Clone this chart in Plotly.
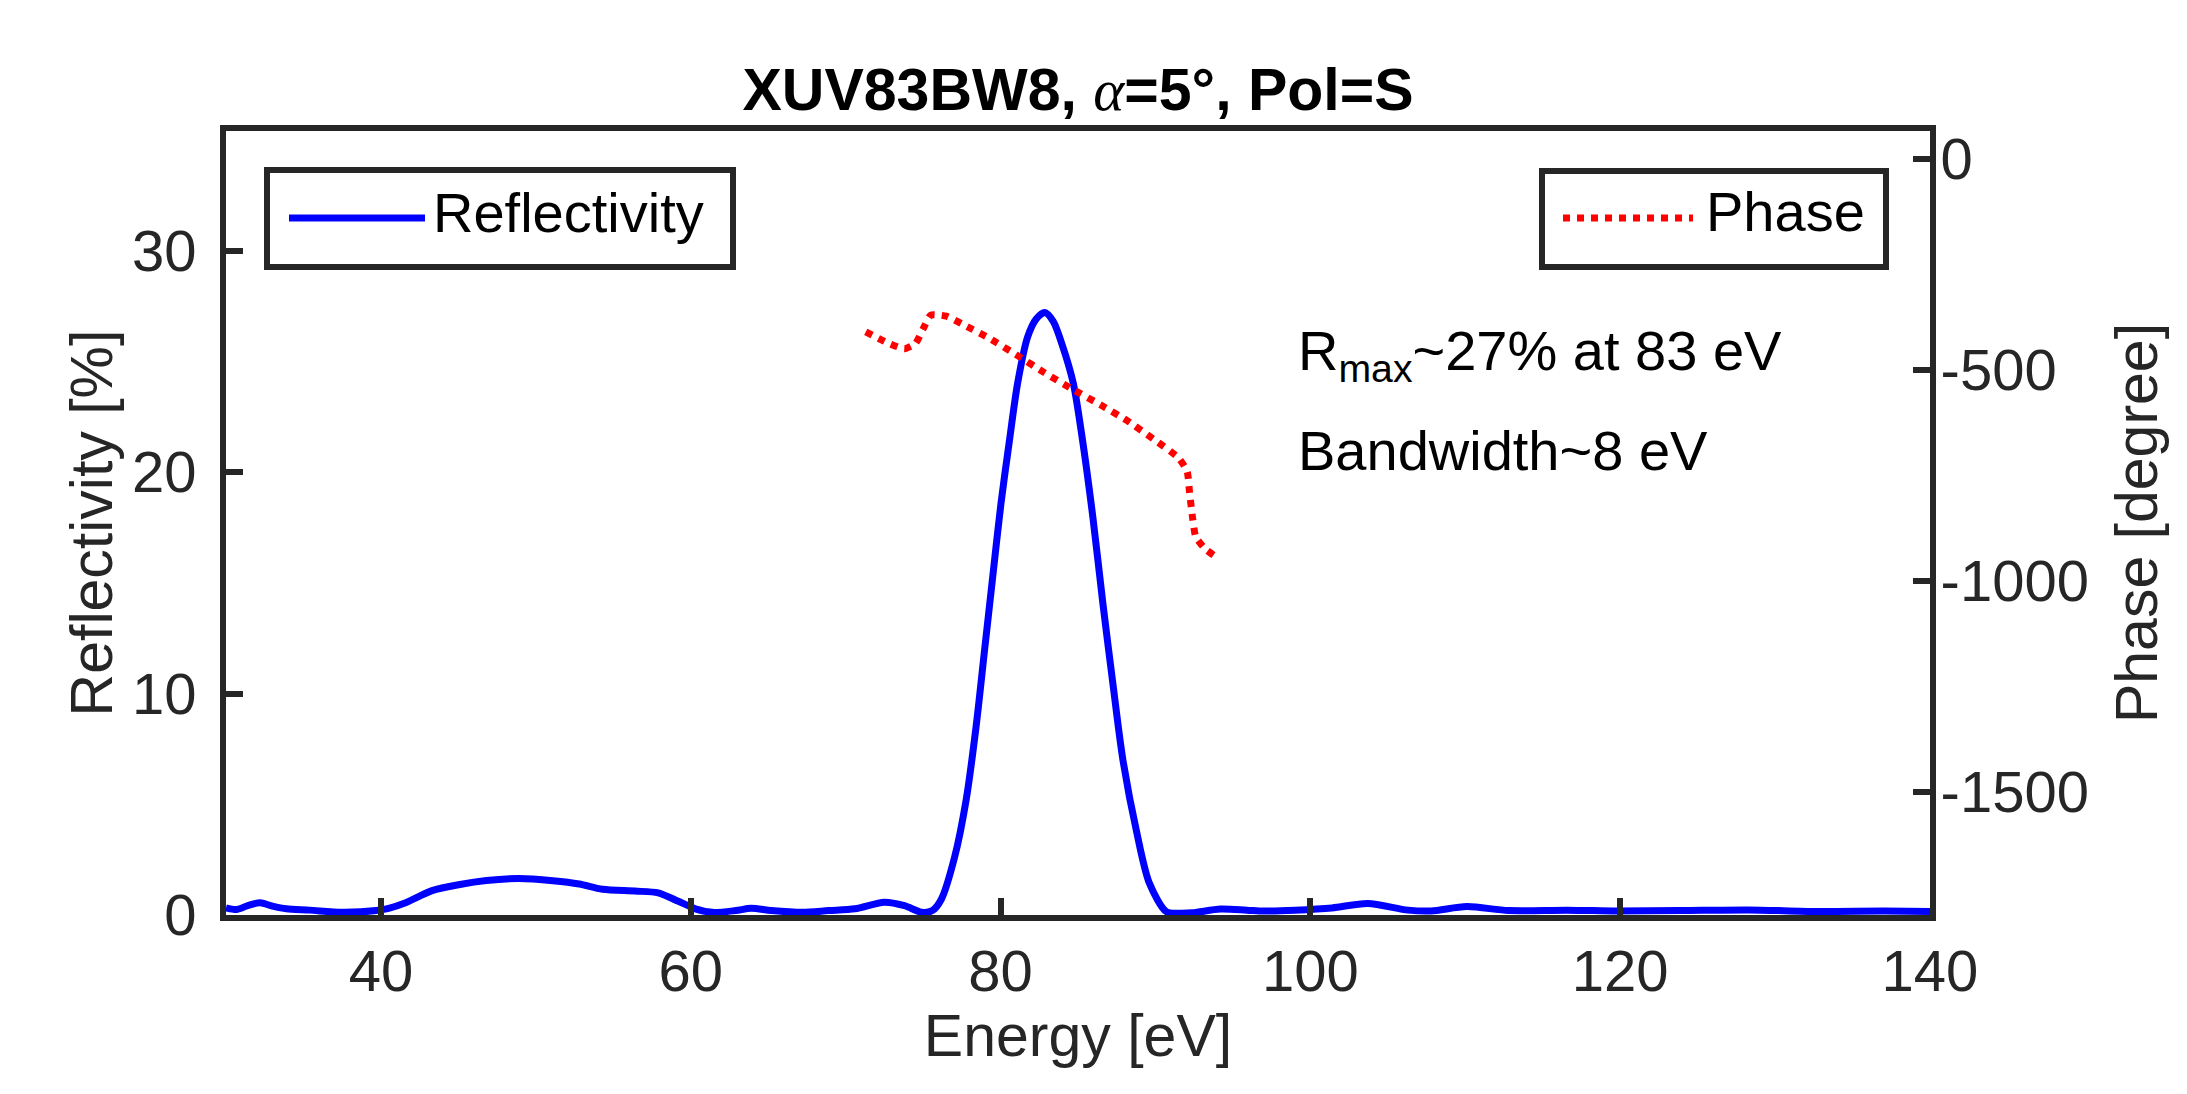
import plotly.graph_objects as go

# ---------------- data ----------------
energy_R = [30.0, 30.7, 31.5, 32.2, 33.0, 33.9, 35.4, 37.5, 39.7, 40.5, 41.6, 43.3,
            45.1, 46.8, 48.9, 51.1, 52.8, 54.3, 56.4, 57.9, 59.2, 60.3, 61.4, 62.9,
            63.9, 65.2, 67.2, 68.9, 70.6, 72.5, 73.8, 74.9, 75.6, 76.17, 77.03, 77.78,
            78.42, 78.96, 79.5, 80.03, 80.57, 81.1, 81.75, 82.29, 82.85, 83.4, 84.0, 84.7,
            85.3, 85.97, 86.6, 87.26, 87.9, 88.8, 89.6, 90.7, 91.5, 92.4, 94.2, 95.9,
            97.0, 99.0, 101.4, 103.7, 106.3, 107.8, 110.1, 112.8, 116.6, 119.8, 123.9, 128.3,
            132.7, 137.0, 140.0]
reflectivity = [0.32, 0.25, 0.45, 0.55, 0.40, 0.28, 0.22, 0.12, 0.20, 0.30, 0.55, 1.10,
                1.38, 1.56, 1.65, 1.55, 1.40, 1.16, 1.08, 1.00, 0.62, 0.28, 0.12, 0.20,
                0.30, 0.20, 0.12, 0.20, 0.28, 0.58, 0.42, 0.12, 0.20, 0.70, 2.6, 5.2,
                8.5, 11.9, 15.3, 18.6, 21.4, 24.0, 26.1, 26.9, 27.2, 26.8, 25.7, 24.0,
                21.4, 17.9, 14.1, 10.4, 7.0, 3.7, 1.45, 0.15, 0.08, 0.10, 0.27, 0.22,
                0.18, 0.22, 0.32, 0.52, 0.22, 0.18, 0.38, 0.20, 0.22, 0.18, 0.20, 0.23,
                0.16, 0.18, 0.16]

energy_P = [71.3, 72.7, 73.8, 74.5, 75.0, 75.5, 76.5, 77.5, 79.3, 81.0, 82.8, 84.65,
            86.5, 88.2, 89.9, 91.5, 92.05, 92.2, 92.4, 92.6, 93.2, 94.1]
phase = [-410, -436, -450, -438, -403, -370, -373, -391, -426, -464, -506, -546,
         -584, -621, -665, -709, -741, -790, -852, -896, -924, -948]

x_ticks = [40, 60, 80, 100, 120, 140]
y_left_ticks = [0, 10, 20, 30]
y_right_ticks = [0, -500, -1000, -1500]
y_right_ticktext = ['0', '-500', '-1000', '-1500']

x_range = [30, 140]
y_left_range = [0, 35.4]
y_right_range = [-1792, 66]

series_names = ['Reflectivity', 'Phase']
title_text = ('XUV83BW8, <span style="font-family:\'Liberation Serif\',serif;font-weight:normal">'
              '<i>α</i></span>=5°, Pol=S')
note1 = 'R<sub>max</sub>~27% at 83 eV'
note2 = 'Bandwidth~8 eV'

# ---------------- figure ----------------
FONT = "Liberation Sans, Arial, Helvetica, sans-serif"
AX = '#262626'
BLUE = '#0000FF'
RED = '#FF0000'
W, H = 2187, 1094
L, R, T, B = 218, 1922, 123, 907


def px(xp):  # page px -> paper x
    return (xp - L) / (R - L)


def py(yp):  # page px -> paper y
    return (B - yp) / (B - T)


fig = go.Figure()
fig.add_trace(go.Scatter(
    x=energy_R, y=reflectivity, mode='lines', name=series_names[0],
    line=dict(color=BLUE, width=7, shape='spline', smoothing=0.8),
    showlegend=False))
fig.add_trace(go.Scatter(
    x=energy_P, y=phase, mode='lines', name=series_names[1], yaxis='y2',
    line=dict(color=RED, width=7, dash='dot', shape='spline', smoothing=0.5),
    showlegend=False))

axis_common = dict(ticks='inside', ticklen=17, tickwidth=6, tickcolor=AX,
                   showline=True, linewidth=6, linecolor=AX, showgrid=False,
                   zeroline=False, tickfont=dict(size=58, color=AX, family=FONT))

# legend boxes (MATLAB style: long line sample, thick frame)
shapes = [
    dict(type='rect', xref='paper', yref='paper', x0=px(259), x1=px(725), y0=py(259), y1=py(162),
         line=dict(color=AX, width=6), fillcolor='white', layer='above'),
    dict(type='line', xref='paper', yref='paper', x0=px(281), x1=px(417), y0=py(210), y1=py(210),
         line=dict(color=BLUE, width=7), layer='above'),
    dict(type='rect', xref='paper', yref='paper', x0=px(1534), x1=px(1878), y0=py(259), y1=py(163),
         line=dict(color=AX, width=6), fillcolor='white', layer='above'),
    dict(type='line', xref='paper', yref='paper', x0=px(1555), x1=px(1685), y0=py(210), y1=py(210),
         line=dict(color=RED, width=7, dash='dot'), layer='above'),
]

annotations = [
    dict(x=px(423), y=py(204), xref='paper', yref='paper', text=series_names[0], showarrow=False,
         xanchor='left', yanchor='middle', font=dict(size=56, color='black', family=FONT)),
    dict(x=px(1696), y=py(203), xref='paper', yref='paper', text=series_names[1], showarrow=False,
         xanchor='left', yanchor='middle', font=dict(size=56, color='black', family=FONT)),
    dict(x=99.1, y=27.0, xref='x', yref='y', text=note1, showarrow=False,
         xanchor='left', yanchor='top', font=dict(size=56, color='black', family=FONT)),
    dict(x=99.1, y=22.5, xref='x', yref='y', text=note2, showarrow=False,
         xanchor='left', yanchor='top', font=dict(size=56, color='black', family=FONT)),
]

fig.update_layout(
    width=W, height=H,
    margin=dict(l=L, r=W - R, t=T, b=H - B, autoexpand=False),
    paper_bgcolor='white', plot_bgcolor='white',
    font=dict(family=FONT, size=56, color=AX),
    showlegend=False,
    title=dict(text=title_text, x=0.5, xref='paper', xanchor='center',
               y=1 - 81 / H, yref='container', yanchor='middle',
               font=dict(size=59, color='black', family=FONT, weight='bold')),
    xaxis=dict(range=x_range, tickvals=x_ticks, mirror=True,
               title=dict(text='Energy [eV]', standoff=14, font=dict(size=59, color=AX)),
               **axis_common),
    yaxis=dict(range=y_left_range, tickvals=y_left_ticks, ticklabelstandoff=12,
               title=dict(text='Reflectivity [%]', standoff=2, font=dict(size=59, color=AX)),
               **axis_common),
    yaxis2=dict(range=y_right_range, tickvals=y_right_ticks, ticktext=y_right_ticktext,
                overlaying='y', side='right', ticklabelstandoff=-7,
                title=dict(text='Phase [degree]', standoff=30, font=dict(size=59, color=AX)),
                **axis_common),
    shapes=shapes,
    annotations=annotations,
)

fig.write_html("out.html")
